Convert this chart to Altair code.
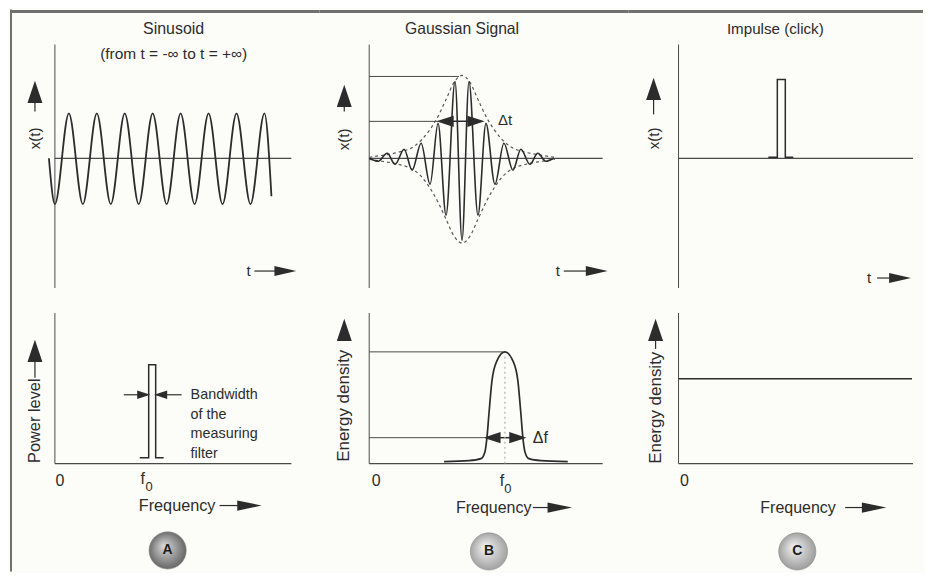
import altair as alt
import pandas as pd

# ---------------- values ----------------
# units inside each panel: horizontal distance from the panel's vertical axis,
# vertical distance above the panel's baseline (zero line / frequency axis)

# A (top): sinusoid - extremes of the wave
SIN_T = [-6, 0, 14, 28, 42, 56, 70, 84, 98, 112, 126, 140, 154, 168, 182, 196, 210, 217]
SIN_X = [0, -46, 45, -46, 45, -46, 45, -46, 45, -46, 45, -46, 45, -46, 45, -46, 45, -38]

# B (top): gaussian burst - extremes, time measured from burst centre
GAUSS_CENTRE = 93
GAUSS_T = [-93, -84, -75, -67, -58, -50, -41, -32, -24, -16, -7, 0,
           7, 16, 24, 33, 42, 51, 59, 68, 76, 84, 92]
GAUSS_X = [0, -3, 5, -6, 9, -12, 15, -26, 35, -57, 77, -82,
           77, -57, 35, -26, 15, -12, 9, -6, 5, -3, 0]
ENV_T = [-93, -80, -64, -48, -40, -32, -24, -16, -8, 0, 8, 16, 24, 32, 40, 48, 64, 80, 93]
ENV_UP = [1, 3, 6, 12, 19, 29, 42, 59, 76, 83, 76, 59, 42, 29, 19, 12, 6, 3, 1]
ENV_LO = [-1, -3, -6, -12, -19, -30, -44, -61, -78, -85, -78, -61, -44, -30, -19, -12, -6, -3, -1]

# C (top): impulse
PULSE_T = [90, 99, 99, 107, 107, 115]
PULSE_X = [1, 1, 79, 79, 1, 1]

# A (bottom): measuring filter passband
BAND_F = [85, 94, 94, 101, 101, 109]
BAND_P = [6, 6, 99, 99, 6, 6]

# B (bottom): energy spectrum of the gaussian burst
SPEC_F = [75, 100, 112, 116, 118, 120, 123, 128, 136, 144, 149, 152, 154, 156, 160, 172, 199]
SPEC_E = [2, 3, 5, 12, 26, 50, 83, 103, 112, 103, 83, 50, 26, 12, 5, 3, 2]

# C (bottom): flat spectrum of the impulse
FLAT_F = [0, 234]
FLAT_E = [85, 85]

# ---------------- styling ----------------
FONT = "Liberation Sans, Arial, Helvetica, sans-serif"
INK = "#2c2c2c"
AXIS = "#4a4a4a"
FRAME = "#707070"
BG = "#fcfcf8"


def head(direction, half):
    if direction == "right":
        return f"M-1,-{half}L1,0L-1,{half}Z"
    if direction == "left":
        return f"M1,-{half}L-1,0L1,{half}Z"
    return f"M-{half},1L0,-1L{half},1Z"


def make_panel(xdom, ydom, segs=(), dashed=(), curves=(), texts=(), heads=(), sphere=None):
    xs = alt.Scale(domain=list(xdom), nice=False, zero=False)
    ys = alt.Scale(domain=list(ydom), nice=False, zero=False)
    ex = alt.X("x:Q", scale=xs, axis=None)
    ey = alt.Y("y:Q", scale=ys, axis=None)
    layers = []
    if segs:
        d = pd.DataFrame(list(segs), columns=["x", "y", "x2", "y2", "w", "c"])
        layers.append(
            alt.Chart(d).mark_rule().encode(
                ex, ey, x2=alt.X2("x2"), y2=alt.Y2("y2"),
                strokeWidth=alt.StrokeWidth("w:Q", scale=None),
                color=alt.Color("c:N", scale=None),
            )
        )
    for (x1, y1, x2, y2, w, c, dash) in dashed:
        d = pd.DataFrame([{"x": x1, "y": y1, "x2": x2, "y2": y2}])
        layers.append(
            alt.Chart(d).mark_rule(strokeWidth=w, color=c, strokeDash=dash).encode(
                ex, ey, x2=alt.X2("x2"), y2=alt.Y2("y2")
            )
        )
    for (cx, cy, props) in curves:
        d = pd.DataFrame({"x": cx, "y": cy, "i": list(range(len(cx)))})
        layers.append(alt.Chart(d).mark_line(**props).encode(ex, ey, order="i:Q"))
    if texts:
        d = pd.DataFrame(list(texts), columns=["x", "y", "text", "size", "angle", "align", "weight"])
        for (al, wt), g in d.groupby(["align", "weight"]):
            layers.append(
                alt.Chart(g).mark_text(align=al, baseline="middle", font=FONT,
                                       fontWeight=wt, color=INK).encode(
                    ex, ey, text="text:N",
                    size=alt.Size("size:Q", scale=None),
                    angle=alt.Angle("angle:Q", scale=None),
                )
            )
    if heads:
        d = pd.DataFrame(list(heads), columns=["x", "y", "shape", "size"])
        layers.append(
            alt.Chart(d).mark_point(filled=True, opacity=1, color=INK, strokeWidth=0).encode(
                ex, ey, shape=alt.Shape("shape:N", scale=None),
                size=alt.Size("size:Q", scale=None),
            )
        )
    if sphere is not None:
        sx, sy, ssize, light, dark, letter = sphere
        d = pd.DataFrame([{"x": sx, "y": sy, "text": letter}])
        grad = {
            "gradient": "radial",
            "x1": 0.4, "y1": 0.38, "r1": 0.02,
            "x2": 0.5, "y2": 0.5, "r2": 0.56,
            "stops": [{"offset": 0, "color": light}, {"offset": 1, "color": dark}],
        }
        layers.append(
            alt.Chart(d).mark_point(shape="circle", filled=True, fill=grad, size=ssize,
                                    opacity=1, stroke="#8a8a8a", strokeWidth=0.6).encode(ex, ey)
        )
        layers.append(
            alt.Chart(d).mark_text(font=FONT, fontWeight="bold", fontSize=14, color="#1e1e1e",
                                   align="center", baseline="middle").encode(ex, ey, text="text:N")
        )
    w = xdom[1] - xdom[0]
    h = ydom[1] - ydom[0]
    return alt.layer(*layers).properties(width=w, height=h)


TOP = (-136, 149)
BOT = (-108, 170)
C1 = (-45, 265)
C2 = (-50, 260)
C3 = (-50, 245)

UP = head("up", 0.67)
T_RIGHT = head("right", 0.45)
F_RIGHT = head("right", 0.42)
SM_R = head("right", 0.65)
SM_L = head("left", 0.65)

HEAD_BIG = 500     # y-axis arrow heads
HEAD_T = 480       # "t ->" heads
HEAD_F = 600       # "Frequency ->" heads
HEAD_D = 300       # delta-t / delta-f heads
HEAD_BW = 170      # bandwidth heads

wave_style = {"interpolate": "monotone", "color": INK, "strokeWidth": 1.8}

# ---------- A top: sinusoid ----------
pA1 = make_panel(
    C1, TOP,
    segs=[(-44, -136, -44, 149, 2, FRAME), (-45, 147, 265, 147, 3, FRAME),
          (0, 114, 0, -130, 1, AXIS), (0, 0, 237, 0, 1.2, AXIS),
          (-20, 59, -20, 47, 1.2, INK), (200, -113, 224, -113, 1.2, INK)],
    curves=[(SIN_T, SIN_X, wave_style)],
    texts=[(119, 130, "Sinusoid", 16, 0, "center", "normal"),
           (119, 105, "(from t = -\u221e to t = +\u221e)", 15.5, 0, "center", "normal"),
           (-20, 20, "x(t)", 15, 270, "center", "normal"),
           (194, -113, "t", 15, 0, "center", "normal")],
    heads=[(-20, 66.5, UP, HEAD_BIG), (231, -113, T_RIGHT, HEAD_T)],
)

# ---------- B top: gaussian ----------
pB1 = make_panel(
    C2, TOP,
    segs=[(-50, 147, 260, 147, 3, FRAME),
          (0, 114, 0, -130, 1, AXIS), (0, 0, 234, 0, 1.2, AXIS),
          (0, 82, 90, 82, 1, AXIS), (0, 37, 69, 37, 1, AXIS),
          (75, 37, 108, 37, 1.5, INK),
          (-25, 55, -25, 47, 1.2, INK), (195, -113, 219, -113, 1.2, INK)],
    curves=[([GAUSS_CENTRE + t for t in ENV_T], ENV_UP,
             {"interpolate": "monotone", "color": "#5a5a5a", "strokeWidth": 1.2, "strokeDash": [3, 3]}),
            ([GAUSS_CENTRE + t for t in ENV_T], ENV_LO,
             {"interpolate": "monotone", "color": "#5a5a5a", "strokeWidth": 1.2, "strokeDash": [3, 3]}),
            ([GAUSS_CENTRE + t for t in GAUSS_T], GAUSS_X,
             {"interpolate": "monotone", "color": INK, "strokeWidth": 1.6})],
    texts=[(93, 130, "Gaussian Signal", 15.7, 0, "center", "normal"),
           (-25, 19, "x(t)", 15, 270, "center", "normal"),
           (189, -113, "t", 15, 0, "center", "normal"),
           (129, 38, "\u0394t", 15, 0, "left", "normal")],
    heads=[(-25, 62.5, UP, HEAD_BIG), (228, -113, T_RIGHT, HEAD_T),
           (76, 37, SM_L, HEAD_D), (107, 37, SM_R, HEAD_D)],
)

# ---------- C top: impulse ----------
pC1 = make_panel(
    C3, TOP,
    segs=[(-50, 147, 245, 147, 3, FRAME),
          (0, 114, 0, -130, 1, AXIS), (0, 0, 235, 0, 1.2, AXIS),
          (-25, 62, -25, 44, 1.2, INK), (199, -120, 215, -120, 1.2, INK)],
    curves=[(PULSE_T, PULSE_X, {"interpolate": "linear", "color": INK, "strokeWidth": 1.5})],
    texts=[(97, 130, "Impulse (click)", 15.2, 0, "center", "normal"),
           (-25, 20, "x(t)", 15, 270, "center", "normal"),
           (191, -120, "t", 15, 0, "center", "normal")],
    heads=[(-25, 69.5, UP, HEAD_BIG), (222, -120, T_RIGHT, HEAD_T)],
)

# ---------- A bottom: power spectrum of sinusoid ----------
pA2 = make_panel(
    C1, BOT,
    segs=[(-44, -108, -44, 170, 2, FRAME),
          (0, 151, 0, 0, 1, AXIS), (0, 0, 237, 0, 1.2, AXIS),
          (-20, 106, -20, 86, 1.2, INK),
          (69, 69, 86, 69, 1.2, INK), (109, 69, 127, 69, 1.2, INK),
          (165, -42, 187, -42, 1.2, INK)],
    curves=[(BAND_F, BAND_P, {"interpolate": "linear", "color": INK, "strokeWidth": 1.5})],
    texts=[(-20, 43, "Power level", 16.4, 270, "center", "normal"),
           (136, 69, "Bandwidth", 14.4, 0, "left", "normal"),
           (136, 49, "of the", 14.4, 0, "left", "normal"),
           (136, 30, "measuring", 14.4, 0, "left", "normal"),
           (136, 10, "filter", 14.4, 0, "left", "normal"),
           (5, -17, "0", 16, 0, "center", "normal"),
           (88, -15, "f", 16, 0, "center", "normal"),
           (94.5, -23, "0", 13, 0, "center", "normal"),
           (84, -42, "Frequency", 16.3, 0, "left", "normal")],
    heads=[(-20, 113, UP, HEAD_BIG), (89, 69, SM_R, HEAD_BW), (106, 69, SM_L, HEAD_BW),
           (195, -42, F_RIGHT, HEAD_F)],
    sphere=(113, -87, 1390, "#d6d6d6", "#5c5c5c", "A"),
)

# ---------- B bottom: energy spectrum of gaussian ----------
pB2 = make_panel(
    C2, BOT,
    segs=[(0, 151, 0, 0, 1, AXIS), (0, 0, 234, 0, 1.2, AXIS),
          (0, 112, 134, 112, 1, AXIS), (0, 26, 115, 26, 1, AXIS),
          (123, 26, 149, 26, 1.5, INK),
          (164, -44, 184, -44, 1.2, INK)],
    dashed=[(136, 0, 136, 110, 1.2, "#b0b0b0", [2, 3])],
    curves=[(SPEC_F, SPEC_E, {"interpolate": "monotone", "color": INK, "strokeWidth": 1.7})],
    texts=[(-25, 58, "Energy density", 17, 270, "center", "normal"),
           (164, 26, "\u0394f", 16, 0, "left", "normal"),
           (7, -17, "0", 16, 0, "center", "normal"),
           (133, -17, "f", 16, 0, "center", "normal"),
           (139, -25, "0", 13, 0, "center", "normal"),
           (87, -44, "Frequency", 16, 0, "left", "normal")],
    heads=[(-25, 134, UP, HEAD_BIG), (123, 26, SM_L, HEAD_D), (149, 26, SM_R, HEAD_D),
           (191, -44, F_RIGHT, HEAD_F)],
    sphere=(120, -88, 1390, "#f2f2f2", "#9a9a9a", "B"),
)

# ---------- C bottom: energy spectrum of impulse ----------
pC2 = make_panel(
    C3, BOT,
    segs=[(0, 151, 0, 0, 1, AXIS), (0, 0, 235, 0, 1.2, AXIS),
          (-23, 115, -23, 124, 1.2, INK),
          (167, -44, 189, -44, 1.2, INK)],
    curves=[(FLAT_F, FLAT_E, {"interpolate": "linear", "color": INK, "strokeWidth": 1.5})],
    texts=[(-23, 56, "Energy density", 17, 270, "center", "normal"),
           (6, -17, "0", 16, 0, "center", "normal"),
           (82, -44, "Frequency", 16, 0, "left", "normal")],
    heads=[(-23, 134, UP, HEAD_BIG), (196, -44, F_RIGHT, HEAD_F)],
    sphere=(119, -88, 1390, "#f0f0f0", "#959595", "C"),
)

chart = alt.concat(
    pA1, pB1, pC1, pA2, pB2, pC2,
    columns=3, spacing=0, bounds="flush",
).properties(padding=0, background=BG).configure_view(strokeWidth=0)

chart.save("out.html", embed_options={"renderer": "svg", "actions": False})
